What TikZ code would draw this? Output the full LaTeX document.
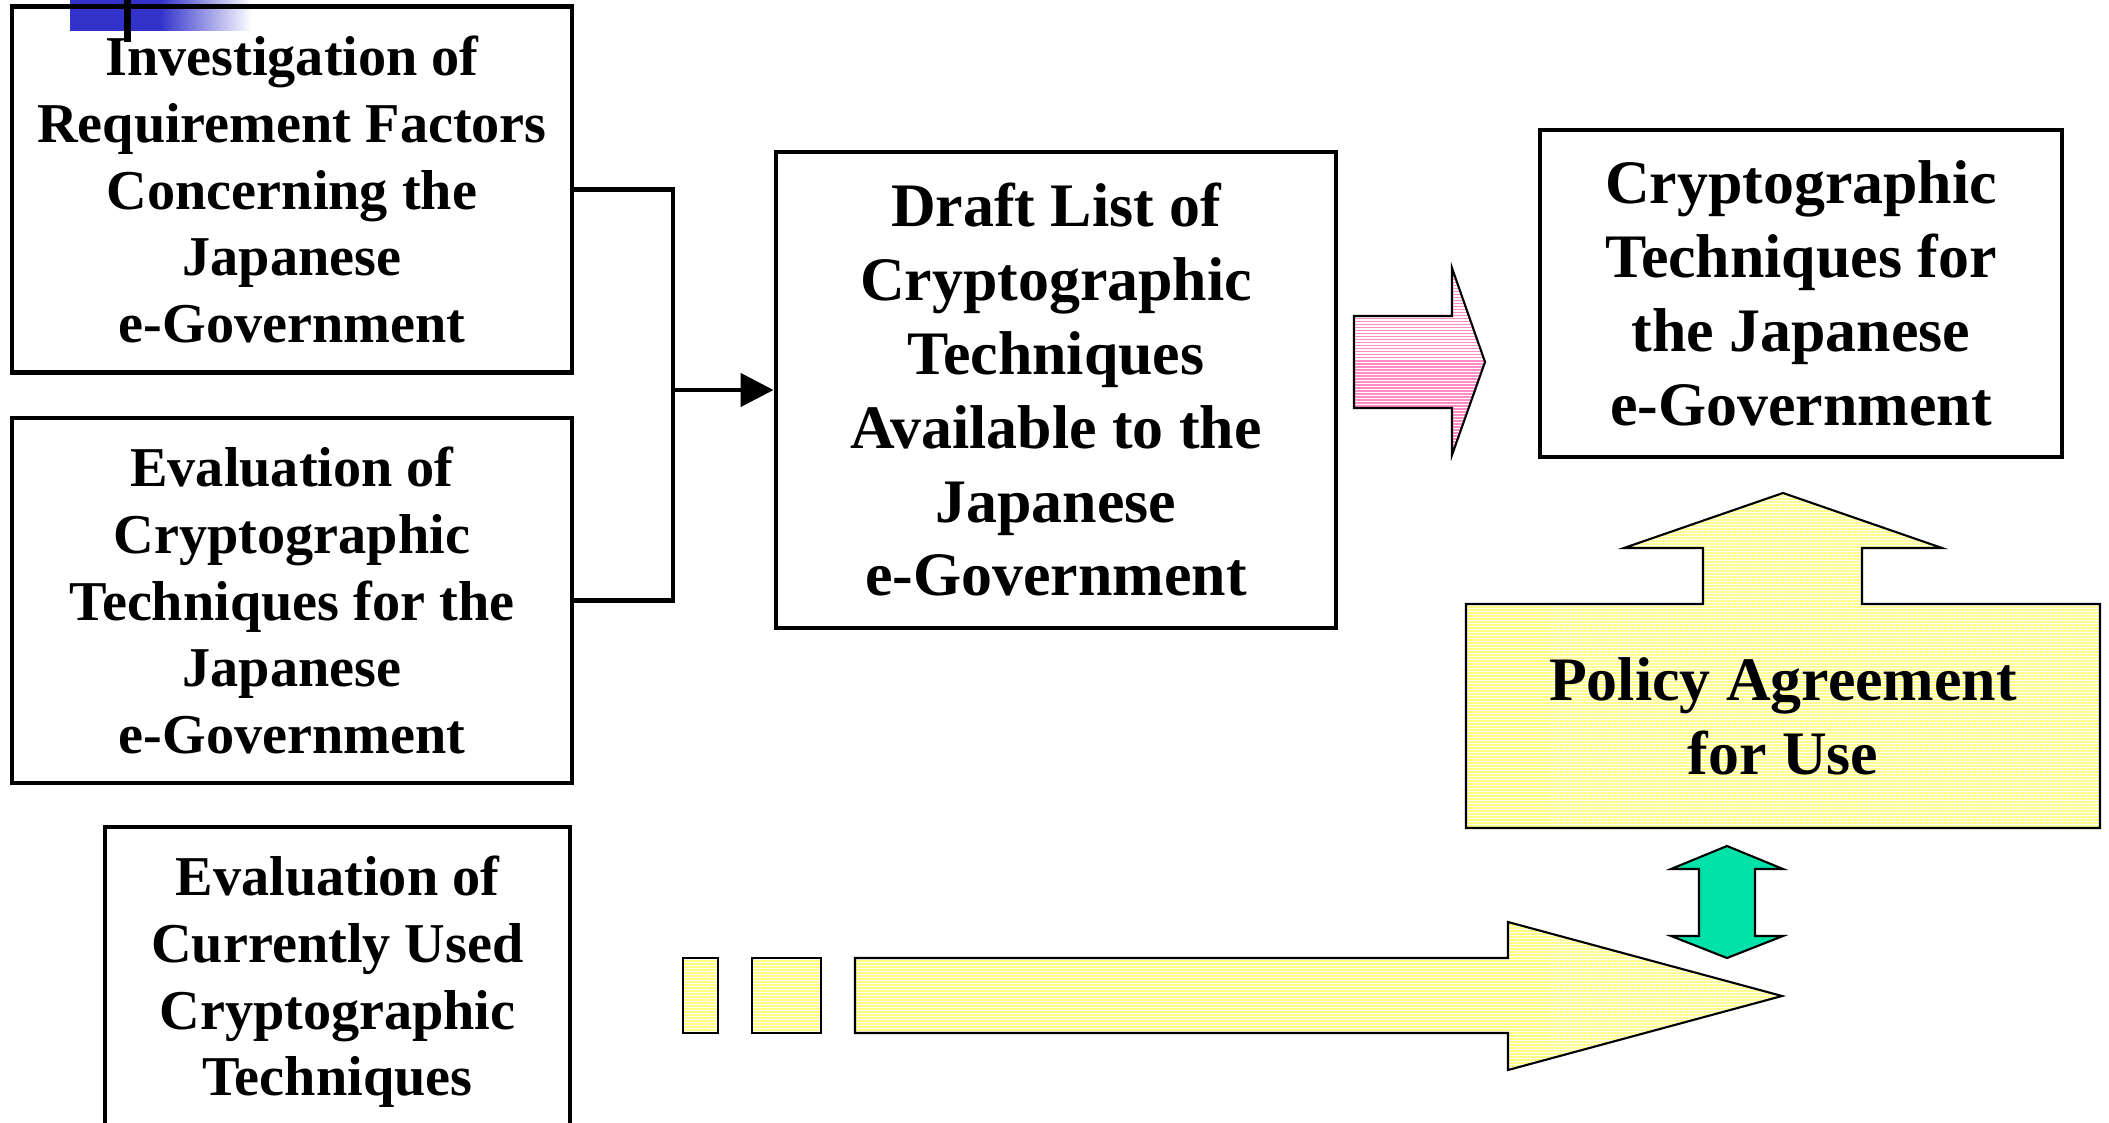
\documentclass[tikz,border=0pt]{standalone}
\usepackage{fontspec}
\setmainfont{Liberation Serif}
\usetikzlibrary{arrows.meta, positioning, patterns.meta}
\definecolor{tplblue}{RGB}{51,51,204}
\definecolor{stripepink}{RGB}{255,140,200}
\definecolor{stripeyellow}{RGB}{255,255,130}
\definecolor{mintgreen}{RGB}{0,226,168}

\begin{document}
\begin{tikzpicture}[
  box/.style={rectangle, draw=black, line width=1.4pt, align=center, inner sep=0pt,
              font=\bfseries\fontsize{16}{19}\selectfont},
  bigbox/.style={box, font=\bfseries\fontsize{17.6}{21}\selectfont},
  conn/.style={line width=1.3pt, color=black},
  arr/.style={conn, -{Triangle[length=0.33cm, width=0.33cm]}},
  block/.style={draw=black, line width=0.6pt, line join=miter},
  pinkblock/.style={block, preaction={fill=white},
                    pattern={Lines[distance=0.854pt, line width=0.5pt]}, pattern color=stripepink},
  yellowblock/.style={block, preaction={fill=white},
                      pattern={Lines[distance=0.854pt, line width=0.5pt]}, pattern color=stripeyellow},
  greenblock/.style={block, fill=mintgreen}
]
  \useasboundingbox (0,0) rectangle (21.09,-11.23);

  \fill[tplblue] (0.70,0) rectangle (1.60,-0.31);
  \shade[left color=tplblue, right color=white] (1.60,0) rectangle (2.52,-0.31);
  \fill[black] (1.24,0) rectangle (1.31,-0.42);

  \node[box, minimum width=5.60cm, minimum height=3.66cm] (reqs) at (2.92,-1.895)
    {Investigation of\\Requirement Factors\\Concerning the\\Japanese\\e-Government};
  \node[box, minimum width=5.60cm, minimum height=3.65cm] (evalcrypt) at (2.92,-6.005)
    {Evaluation of\\Cryptographic\\Techniques for the\\Japanese\\e-Government};
  \node[box, minimum width=4.65cm, minimum height=3.10cm] (evalused) at (3.375,-9.82)
    {Evaluation of\\Currently Used\\Cryptographic\\Techniques};
  \node[bigbox, minimum width=5.60cm, minimum height=4.76cm] (draft) at (10.56,-3.90)
    {Draft List of\\Cryptographic\\Techniques\\Available to the\\Japanese\\e-Government};
  \node[bigbox, minimum width=5.22cm, minimum height=3.27cm] (final) at (18.01,-2.935)
    {Cryptographic\\Techniques for\\the Japanese\\e-Government};

  \coordinate (join) at (6.73,-3.90);
  \draw[conn] (reqs.east) -| (join) |- (evalcrypt.east);
  \draw[arr] (join) -- (draft.west);

  \draw[pinkblock] (13.54,-3.16) -- (14.52,-3.16) -- (14.52,-2.68) -- (14.85,-3.62)
    -- (14.52,-4.55) -- (14.52,-4.08) -- (13.54,-4.08) -- cycle;

  \draw[yellowblock] (14.66,-6.04) -- (17.03,-6.04) -- (17.03,-5.48) -- (16.24,-5.48)
    -- (17.83,-4.93) -- (19.42,-5.48) -- (18.62,-5.48) -- (18.62,-6.04) -- (21.00,-6.04)
    -- (21.00,-8.28) -- (14.66,-8.28) -- cycle;
  \node[font=\bfseries\fontsize{17.6}{21}\selectfont, align=center] (policy) at (17.83,-7.16)
    {Policy Agreement\\for Use};

  \draw[greenblock] (17.27,-8.46) -- (17.83,-8.69) -- (17.55,-8.69) -- (17.55,-9.36)
    -- (17.83,-9.36) -- (17.27,-9.58) -- (16.71,-9.36) -- (16.99,-9.36) -- (16.99,-8.69)
    -- (16.71,-8.69) -- cycle;

  \draw[yellowblock] (6.83,-9.58) rectangle (7.18,-10.33);
  \draw[yellowblock] (7.52,-9.58) rectangle (8.21,-10.33);
  \draw[yellowblock] (8.55,-9.58) -- (15.08,-9.58) -- (15.08,-9.22) -- (17.82,-9.96)
    -- (15.08,-10.70) -- (15.08,-10.33) -- (8.55,-10.33) -- cycle;
\end{tikzpicture}
\end{document}
